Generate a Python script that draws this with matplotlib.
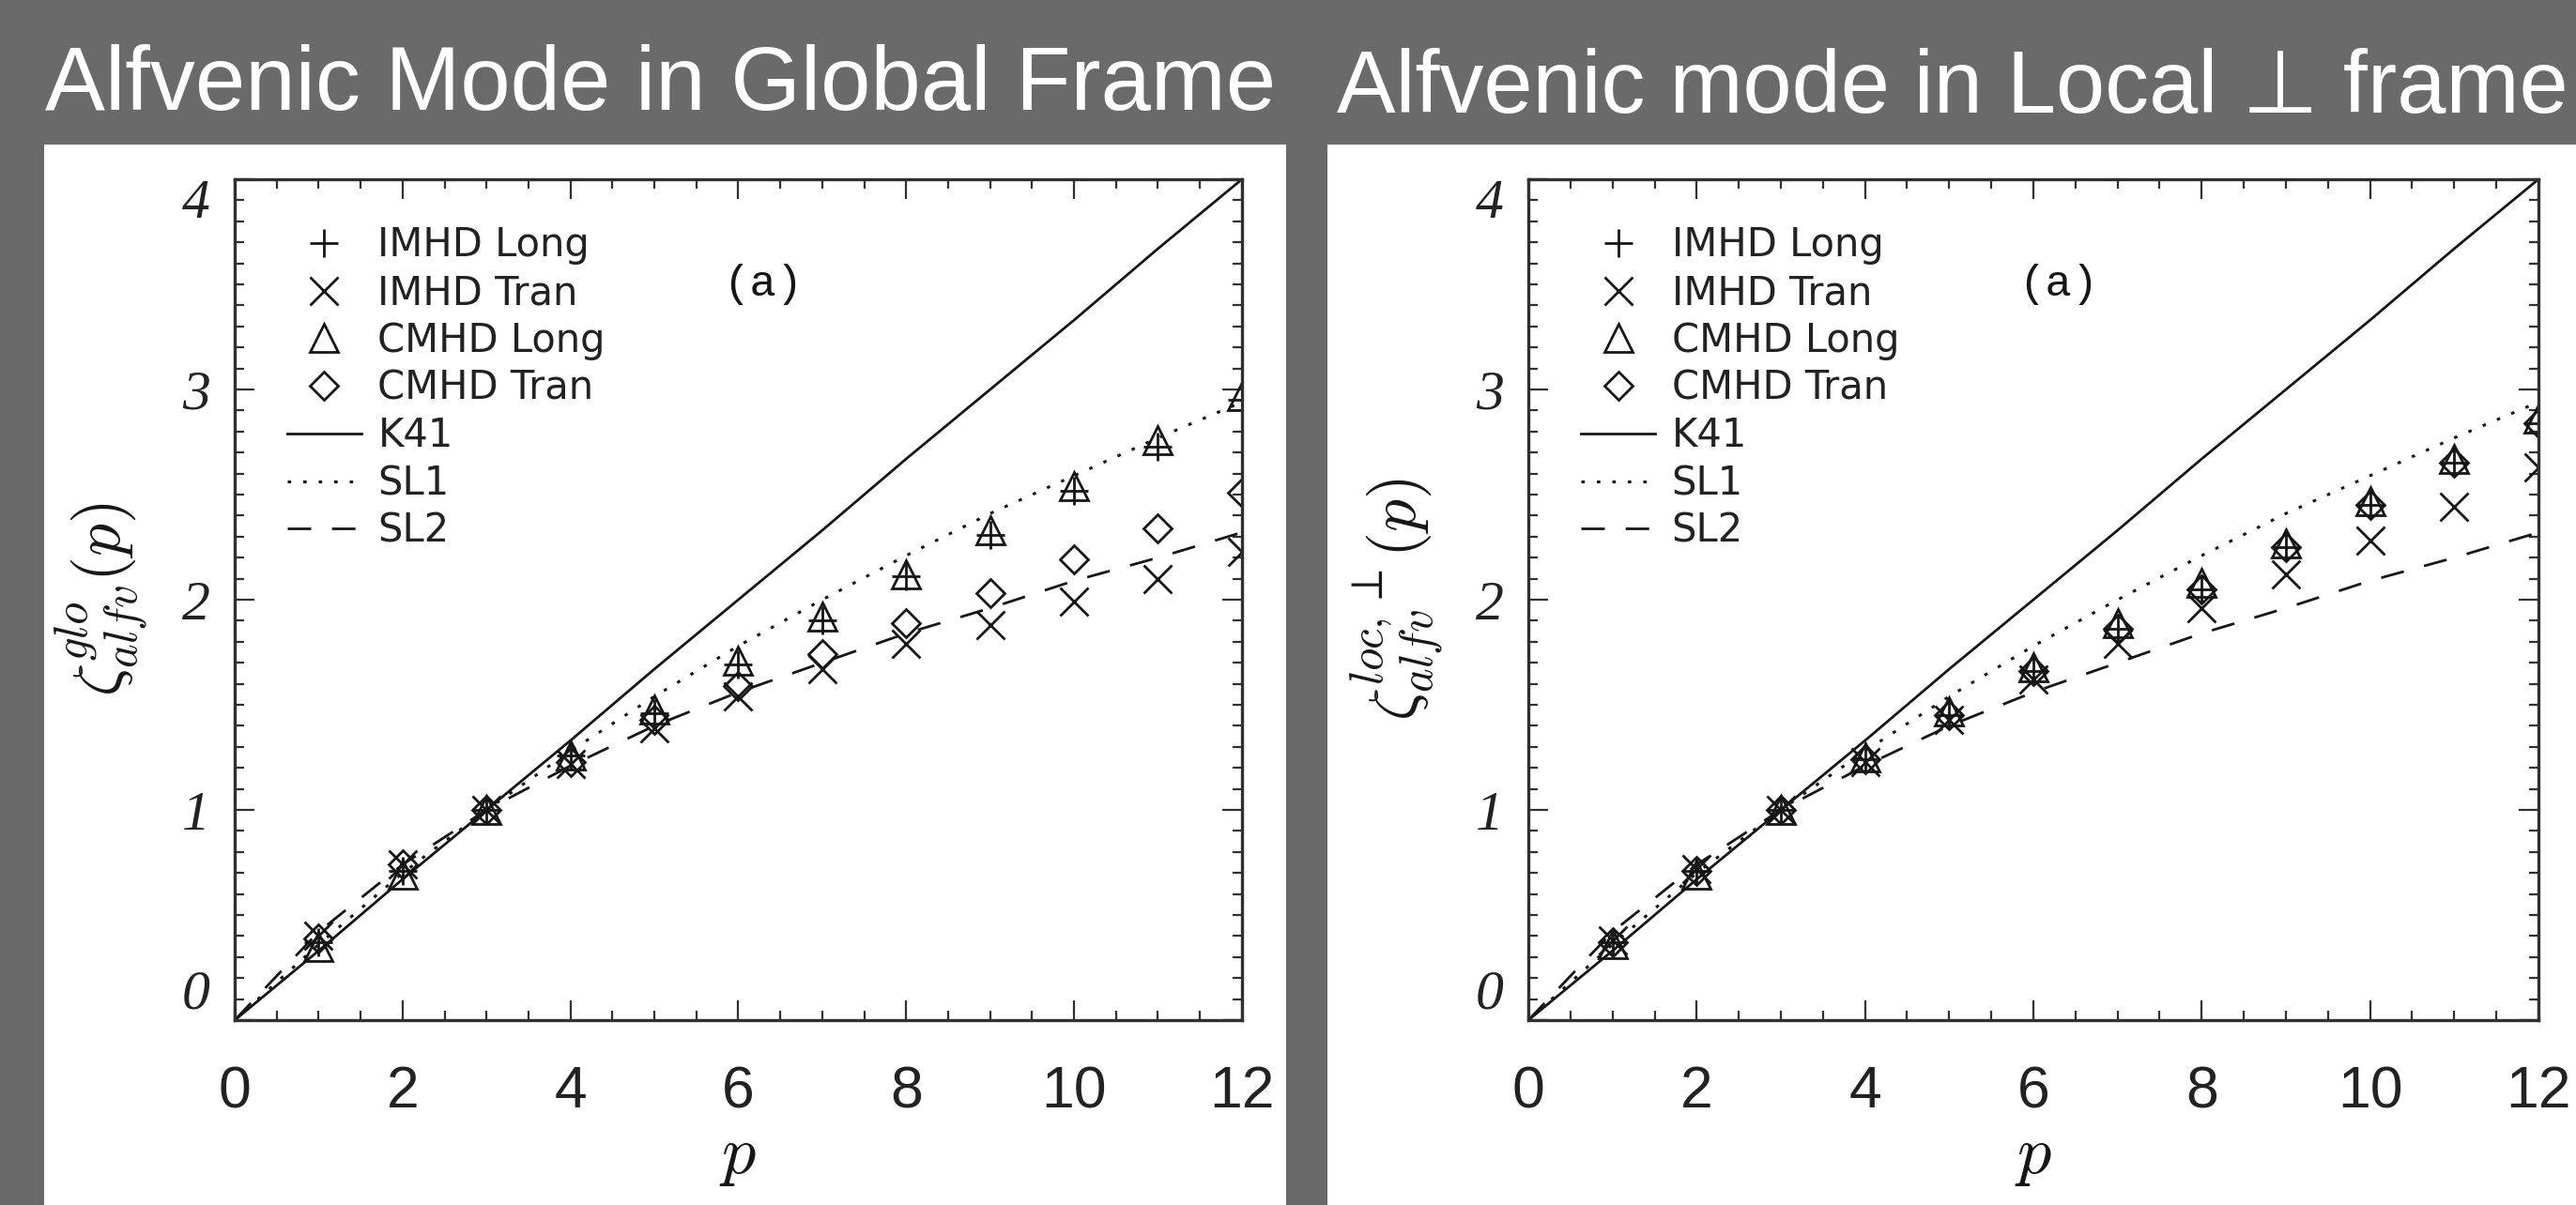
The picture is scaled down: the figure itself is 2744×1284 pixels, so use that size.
import matplotlib.pyplot as plt
from matplotlib.patches import Rectangle
from matplotlib.ticker import MultipleLocator

plt.rcParams['mathtext.fontset'] = 'cm'

# structure-function exponents
p = [1, 2, 3, 4, 5, 6, 7, 8, 9, 10, 11, 12]

# left: global frame
glo_imhd_long = [0.37, 0.71, 1.00, 1.26, 1.46, 1.69, 1.90, 2.11, 2.31, 2.52, 2.73, 2.95]
glo_imhd_tran = [0.40, 0.74, 1.00, 1.22, 1.39, 1.54, 1.67, 1.79, 1.88, 1.99, 2.10, 2.23]
glo_cmhd_long = [0.35, 0.69, 1.00, 1.26, 1.48, 1.71, 1.92, 2.12, 2.33, 2.54, 2.76, 2.97]
glo_cmhd_tran = [0.39, 0.74, 1.00, 1.23, 1.43, 1.59, 1.74, 1.89, 2.03, 2.19, 2.34, 2.51]

# right: local perpendicular frame
loc_imhd_long = [0.37, 0.71, 1.00, 1.24, 1.45, 1.66, 1.86, 2.05, 2.25, 2.45, 2.65, 2.84]
loc_imhd_tran = [0.38, 0.72, 1.00, 1.23, 1.43, 1.62, 1.79, 1.96, 2.12, 2.28, 2.44, 2.63]
loc_cmhd_long = [0.36, 0.69, 1.00, 1.25, 1.47, 1.68, 1.89, 2.08, 2.27, 2.47, 2.67, 2.86]
loc_cmhd_tran = [0.37, 0.71, 1.00, 1.24, 1.45, 1.66, 1.86, 2.05, 2.25, 2.45, 2.65, 2.84]

# model curves (same on both panels)
p_model = [0, 1, 2, 3, 4, 5, 6, 7, 8, 9, 10, 11, 12]
k41 = [0, 0.33, 0.67, 1.00, 1.33, 1.67, 2.00, 2.33, 2.67, 3.00, 3.33, 3.67, 4.00]
sl1 = [0, 0.36, 0.70, 1.00, 1.28, 1.54, 1.78, 2.00, 2.21, 2.41, 2.59, 2.77, 2.94]
sl2 = [0, 0.42, 0.74, 1.00, 1.21, 1.40, 1.56, 1.70, 1.84, 1.96, 2.09, 2.20, 2.32]

x_ticks = [0, 2, 4, 6, 8, 10, 12]
y_ticks = [0, 1, 2, 3, 4]

ink = '#161616'
frame = '#303030'

fig = plt.figure(figsize=(27.44, 12.84), dpi=100, facecolor='#6a6a6a')

# white card behind each panel
fig.add_artist(Rectangle((0.0171, 0), 0.4821, 0.8801, transform=fig.transFigure,
                         facecolor='white', edgecolor='none', zorder=-1))
fig.add_artist(Rectangle((0.5153, 0), 0.4847, 0.8801, transform=fig.transFigure,
                         facecolor='white', edgecolor='none', zorder=-1))

fig.text(0.0175, 0.9089, 'Alfvenic Mode in Global Frame', fontsize=69, color='white',
         family='Liberation Sans', va='baseline')
fig.text(0.519, 0.9065, 'Alfvenic mode in Local \u22a5 frame', fontsize=67.5, color='white',
         family=['Liberation Sans', 'DejaVu Sans'], va='baseline')


def draw_panel(ax, ylabel, il, it, cl, ct, ylab_x):
    ms = 21
    mew = 2.0
    h1, = ax.plot(p, il, ls='none', marker='+', ms=ms, mew=mew, color=ink, label='IMHD Long')
    h2, = ax.plot(p, it, ls='none', marker='x', ms=ms, mew=mew, color=ink, label='IMHD Tran')
    h3, = ax.plot(p, cl, ls='none', marker='^', ms=ms, mew=mew, mfc='none', color=ink, label='CMHD Long')
    h4, = ax.plot(p, ct, ls='none', marker='D', ms=15, mew=mew, mfc='none', color=ink, label='CMHD Tran')
    h5, = ax.plot(p_model, k41, '-', lw=2.0, color=ink, label='K41')
    h6, = ax.plot(p_model, sl1, lw=2.2, color=ink, dashes=(1.2, 4.2), label='SL1')
    h7, = ax.plot(p_model, sl2, lw=2.0, color=ink, dashes=(9, 8), label='SL2')

    ax.set_xlim(0, 12)
    ax.set_ylim(0, 4)
    ax.set_xticks(x_ticks)
    ax.set_yticks(y_ticks)
    ax.xaxis.set_minor_locator(MultipleLocator(0.5))
    ax.yaxis.set_minor_locator(MultipleLocator(0.1))
    ax.tick_params(which='both', direction='in', top=True, right=True, color=frame)
    ax.tick_params(which='major', length=15, width=1.6)
    ax.tick_params(which='minor', length=7, width=1.6)
    ax.tick_params(axis='x', which='major', pad=34, labelsize=45, labelcolor='#222222')
    ax.tick_params(axis='y', which='major', pad=19, labelsize=43, labelcolor='#222222')
    for lab in ax.get_xticklabels():
        lab.set_family('Liberation Sans')
    for lab in ax.get_yticklabels():
        lab.set_family('Liberation Serif')
        lab.set_style('italic')
    # keep the end labels inside the frame, as in the original
    yt = ax.yaxis.get_major_ticks()
    yt[0].label1.set_va('bottom')
    yt[-1].label1.set_va('top')
    for s in ax.spines.values():
        s.set_linewidth(2.4)
        s.set_color(frame)

    ax.set_xlabel('$p$', fontsize=52, color=ink)
    ax.xaxis.set_label_coords(0.5, -0.123)
    ax.set_ylabel(ylabel, fontsize=50, color=ink)
    ax.yaxis.set_label_coords(ylab_x, 0.5)

    ax.legend(handles=[h1, h2, h3, h4, h5, h6, h7], loc='upper left',
              bbox_to_anchor=(0.052, 0.945), frameon=False, borderpad=0, borderaxespad=0,
              prop={'family': 'DejaVu Sans', 'size': 30}, labelcolor='#222222',
              handlelength=1.9, handletextpad=0.42, labelspacing=0.21, numpoints=1)

    ax.text(0.485, 0.875, '(a)', transform=ax.transAxes, family='Liberation Mono',
            fontsize=34, color=ink, va='center', ha='left')


ax1 = fig.add_axes([0.0911, 0.1534, 0.3910, 0.6978])
draw_panel(ax1, r'$\zeta^{glo}_{alfv}(p)$', glo_imhd_long, glo_imhd_tran,
           glo_cmhd_long, glo_cmhd_tran, -0.083)

ax2 = fig.add_axes([0.5933, 0.1534, 0.3921, 0.6978])
draw_panel(ax2, r'$\zeta^{loc,\perp}_{alfv}(p)$', loc_imhd_long, loc_imhd_tran,
           loc_cmhd_long, loc_cmhd_tran, -0.081)

fig.savefig('out.png', dpi=100, facecolor=fig.get_facecolor())
